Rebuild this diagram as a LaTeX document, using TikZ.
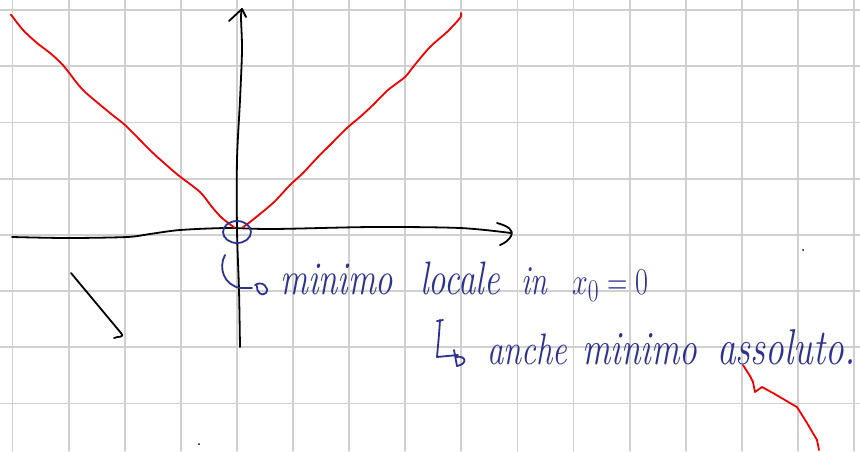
\documentclass[tikz,border=0pt]{standalone}
\usepackage{graphicx}
\definecolor{gridc}{RGB}{208,208,208}
\definecolor{inkblue}{RGB}{44,50,145}
\definecolor{inkred}{RGB}{245,0,0}
\newcommand\hwword[2]{\scalebox{1}[1.35]{\resizebox{#1}{!}{#2}}}
\begin{document}
\begin{tikzpicture}[x=1pt,y=-1pt, line cap=round, line join=round,
  gridline/.style={gridc, line width=1.8pt},
  pen/.style={line width=1.8pt},
  word/.style={inkblue, anchor=base west, inner sep=0pt, font=\fontsize{30}{36}\selectfont\itshape}]
\fill[white] (0,0) rectangle (860,451);
\useasboundingbox (0,0) rectangle (860,451);
% grid
\foreach \k in {0,...,15} \draw[gridline] ({12.5+56.1*\k},0) -- ({12.5+56.1*\k},451);
\foreach \k in {0,...,7} \draw[gridline] (0,{10+56.2*\k}) -- (860,{10+56.2*\k});
% x axis
\draw[pen] plot[smooth] coordinates {(12,237) (67,238) (127,237) (150,234) (180,230) (227,228) (273,229) (373,227) (460,228) (511,233)};
\draw[pen] (497,223) .. controls (508,226) and (514,230) .. (511,236) .. controls (509,240) and (505,243) .. (500,245);
% y axis
\draw[pen] plot[smooth] coordinates {(240,347) (239,290) (237,230) (237,160) (240,100) (242,50) (241,17) (242,9)};
\draw[pen] (229,21) -- (242,9) -- (246,17);
% red graph
\draw[inkred, pen] plot[smooth] coordinates {(11,15) (12,16) (23,30) (37,43) (50,53) (60,62) (67,70) (83,90) (110,113) (125,125) (140,140) (153,153) (163,162) (178,175) (200,192) (212,207) (222,218) (235,228)};
\draw[inkred, pen] plot[smooth] coordinates {(243,227) (250,222) (273,203) (290,185) (303,173) (317,158) (330,145) (347,128) (360,117) (373,105) (388,90) (405,77) (413,67) (430,47) (447,32) (460,18) (461,13)};
% red squiggle
\draw[inkred, pen] (743,365) -- (750,376) -- (753,382) -- (755,392) -- (762,387) -- (773,393) -- (790,403) -- (797,407) -- (807,423) -- (817,440) -- (819,450);
% blue circle
\draw[inkblue, pen] (237,232) ellipse [x radius=14pt, y radius=11pt];
% black stroke
\draw[pen] (71,273) -- (121,333) .. controls (125,338) and (118,336) .. (114,338);
% dots
\fill (803,250) circle (1pt);
\fill (199,444) circle (1pt);
% hook arrows
\draw[inkblue, pen] (225,255) .. controls (218,268) and (224,285) .. (240,288) -- (252,288);
\draw[inkblue, pen] (255,285) .. controls (262,280) and (270,288) .. (266,293) .. controls (262,297) and (256,292) .. (257,286);
\draw[inkblue, pen] (437,321) -- (443,320);
\draw[inkblue, pen] (440,320) .. controls (439,335) .. (437,357) -- (458,355);
\draw[inkblue, pen] (454,350) -- (457,366);
\draw[inkblue, pen] (456,357) .. controls (466,355) and (468,364) .. (457,366);
% text
\node[word] (w1) at (280,294) {\hwword{113pt}{minimo}};
\node[word] (w2) at (420,294) {\hwword{80pt}{locale}};
\node[word] (w3) at (521,294) {\hwword{26pt}{in}};
\node[word] (w4) at (572,294) {\hwword{76pt}{$x_0=0$}};
\node[word] (w5) at (487,364) {\hwword{80pt}{anche}};
\node[word] (w6) at (582,364) {\hwword{115pt}{minimo}};
\node[word] (w7) at (717,364) {\hwword{138pt}{assoluto.}};
\end{tikzpicture}
\end{document}
